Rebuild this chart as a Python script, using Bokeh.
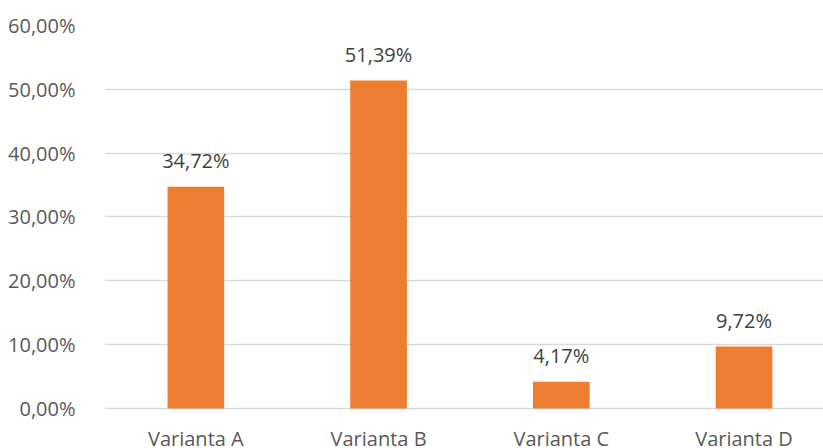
from bokeh.plotting import figure
from bokeh.models import Range1d, FixedTicker, ColumnDataSource
from bokeh.core.properties import value
from bokeh.embed import file_html
from bokeh.resources import INLINE

categories = ["Varianta A", "Varianta B", "Varianta C", "Varianta D"]
percent_values = [34.72, 51.39, 4.17, 9.72]
y_ticks = [0.0, 0.1, 0.2, 0.3, 0.4, 0.5, 0.6]
y_tick_labels = ["0,00%", "10,00%", "20,00%", "30,00%", "40,00%", "50,00%", "60,00%"]

FONT = "Open Sans"

xs = list(range(len(categories)))
ys = [v / 100 for v in percent_values]
labels = [f"{v:.2f}%".replace(".", ",") for v in percent_values]

src = ColumnDataSource(dict(x=xs, y=ys, label=labels, cat=categories, zero=[0] * len(xs)))

p = figure(width=823, height=448, output_backend="svg", toolbar_location=None,
           x_range=Range1d(-0.5, 3.435), y_range=Range1d(-0.0627, 0.6),
           min_border_left=104, min_border_right=0, min_border_top=25, min_border_bottom=0)
p.outline_line_color = None
p.background_fill_color = "white"
p.border_fill_color = "white"

p.xaxis.visible = False
p.xgrid.visible = False

p.yaxis.ticker = FixedTicker(ticks=y_ticks)
p.yaxis.major_label_overrides = {t: l for t, l in zip(y_ticks, y_tick_labels)}
p.yaxis.axis_line_color = None
p.yaxis.major_tick_line_color = None
p.yaxis.minor_tick_line_color = None
p.yaxis.major_label_standoff = 23
p.yaxis.major_label_text_font = FONT
p.yaxis.major_label_text_font_size = "20px"
p.yaxis.major_label_text_color = "#595959"

p.ygrid.ticker = FixedTicker(ticks=y_ticks)
p.ygrid.grid_line_color = "#D9D9D9"
p.ygrid.grid_line_width = 1.3

p.vbar(x="x", top="y", bottom=0, width=0.31, source=src, fill_color="#ED7D31", line_color=None)

p.text(x="x", y="y", text="label", source=src, text_align="center", text_baseline="alphabetic",
       y_offset=-26, text_font=value(FONT), text_font_size="20px", text_color="#404040")

p.text(x="x", y="zero", text="cat", source=src, text_align="center", text_baseline="top",
       y_offset=17, text_font=value(FONT), text_font_size="20px", text_color="#595959")

open("out.html", "w").write(file_html(p, INLINE))
